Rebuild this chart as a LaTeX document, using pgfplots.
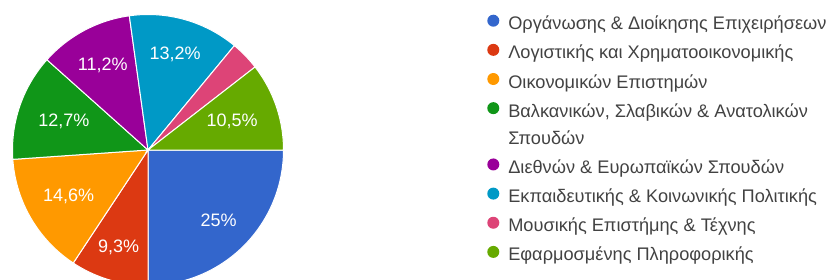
\documentclass[border=0pt]{standalone}
\usepackage{pgfplots}
\pgfplotsset{compat=1.18}
\usepackage{fontspec}
\setmainfont{Liberation Sans}
\definecolor{c1}{HTML}{3366CC}
\definecolor{c2}{HTML}{DC3912}
\definecolor{c3}{HTML}{FF9900}
\definecolor{c4}{HTML}{109618}
\definecolor{c5}{HTML}{990099}
\definecolor{c6}{HTML}{0099C6}
\definecolor{c7}{HTML}{DD4477}
\definecolor{c8}{HTML}{66AA00}
\definecolor{textgray}{HTML}{424242}
\newcommand\legendfont{\fontsize{18.2bp}{20bp}\selectfont}
\newcommand\labelfont{\fontsize{18bp}{20bp}\selectfont}
\xdef\cum{0}
% #1 value (percent), #2 colour, #3 label, #4 label distance from centre
\newcommand\slice[4]{%
  \pgfmathsetmacro\sa{\cum*3.6}%
  \pgfmathsetmacro\se{(\cum+#1)*3.6}%
  \addplot[fill=#2, draw=white, line width=1bp, domain=\sa:\se, samples=91]
    ({148+135.5*cos(x)},{150+135.5*sin(x)}) -- (axis cs:148,150) -- cycle;
  \pgfmathsetmacro\md{(\cum+#1/2)*3.6}%
  \pgfmathsetmacro\lx{148+#4*cos(\md)}%
  \pgfmathsetmacro\ly{150+#4*sin(\md)}%
  \edef\tmp{\noexpand\node[text=white, inner sep=0pt, font=\noexpand\labelfont] at (axis cs:\lx,\ly) {#3};}\tmp
  \pgfmathsetmacro\nc{\cum+#1}%
  \xdef\cum{\nc}%
}
\begin{document}
\begin{tikzpicture}
\begin{axis}[
  width=834bp, height=280bp, scale only axis,
  xmin=0, xmax=834, ymin=0, ymax=280, y dir=reverse,
  hide axis,
  legend cell align=left,
  legend style={at={(axis cs:487.3,14.7)}, anchor=north west, draw=none, fill=none,
    inner sep=0pt, outer sep=0pt, font=\legendfont, text=textgray,
    row sep=10.15bp, column sep=9bp,
    nodes={inner sep=0pt, text height=13bp, text depth=4bp}},
  legend image code/.code={\fill[#1, draw=none] (6bp,4.5bp) circle (6bp);},
]
\slice{25}{c1}{25\%}{100}
\addlegendentry{Οργάνωσης \& Διοίκησης Επιχειρήσεων}
\slice{9.3}{c2}{9,3\%}{102}
\addlegendentry{Λογιστικής και Χρηματοοικονομικής}
\slice{14.6}{c3}{14,6\%}{92}
\addlegendentry{Οικονομικών Επιστημών}
\slice{12.7}{c4}{12,7\%}{89}
\addlegendentry{Βαλκανικών, Σλαβικών \& Ανατολικών}
\addlegendimage{empty legend}
\addlegendentry{Σπουδών}
\slice{11.2}{c5}{11,2\%}{96}
\addlegendentry{Διεθνών \& Ευρωπαϊκών Σπουδών}
\slice{13.2}{c6}{13,2\%}{99}
\addlegendentry{Εκπαιδευτικής \& Κοινωνικής Πολιτικής}
\slice{3.5}{c7}{}{95}
\addlegendentry{Μουσικής Επιστήμης \& Τέχνης}
\slice{10.5}{c8}{10,5\%}{89}
\addlegendentry{Εφαρμοσμένης Πληροφορικής}
\end{axis}
\pgfresetboundingbox
\path[use as bounding box] (current axis.south west) rectangle (current axis.north east);
\end{tikzpicture}
\end{document}
